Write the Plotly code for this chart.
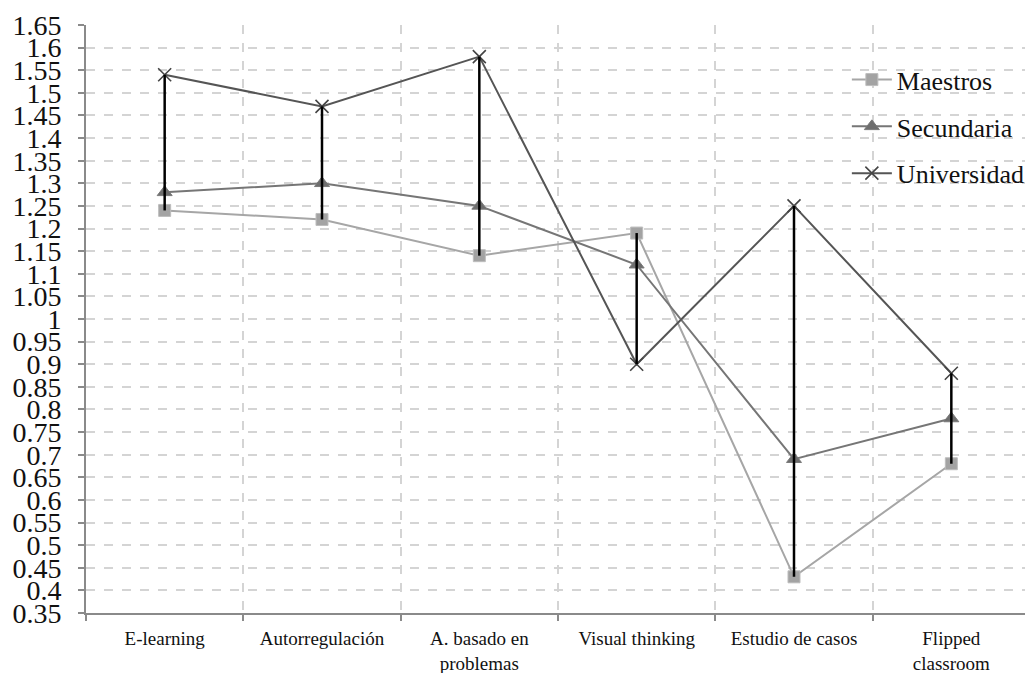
import plotly.graph_objects as go

categories = ["E-learning", "Autorregulación", "A. basado en<br>problemas",
              "Visual thinking", "Estudio de casos", "Flipped<br>classroom"]
maestros = [1.24, 1.22, 1.14, 1.19, 0.43, 0.68]
secundaria = [1.28, 1.30, 1.25, 1.12, 0.69, 0.78]
universidad = [1.54, 1.47, 1.58, 0.90, 1.25, 0.88]
y_ticks = [round(0.35 + 0.05 * i, 2) for i in range(27)]
y_ticktext = [("%g" % v) for v in y_ticks]

SERIF = "Liberation Serif, Times New Roman, Times, DejaVu Serif, serif"

fig = go.Figure()
fig.add_trace(go.Scatter(
    x=categories, y=maestros, name="Maestros", mode="lines+markers",
    line=dict(color="#a6a6a6", width=2),
    marker=dict(symbol="square", size=12, color="#a3a3a3", line=dict(color="#bdbdbd", width=1)),
    legendgroup="m"))
fig.add_trace(go.Scatter(
    x=categories, y=secundaria, name="Secundaria", mode="lines+markers",
    line=dict(color="#767676", width=2),
    marker=dict(symbol="triangle-up", size=13, color="#6e6e6e", line=dict(color="#7a7a7a", width=1)),
    legendgroup="s"))
fig.add_trace(go.Scatter(
    x=categories, y=universidad, name="Universidad", mode="lines+markers",
    line=dict(color="#555555", width=2),
    marker=dict(symbol="x-thin", size=13, color="#444444", line=dict(color="#444444", width=1.6)),
    legendgroup="u"))

# high-low lines
hx, hy = [], []
for c, a, b, u in zip(categories, maestros, secundaria, universidad):
    hx += [c, c, None]
    hy += [min(a, b, u), max(a, b, u), None]
fig.add_trace(go.Scatter(x=hx, y=hy, mode="lines", line=dict(color="#000000", width=2.5),
                         showlegend=False, hoverinfo="skip"))

fig.update_layout(
    width=1025, height=665,
    margin=dict(l=78, r=3, t=17, b=60, autoexpand=False),
    paper_bgcolor="white", plot_bgcolor="white",
    font=dict(family=SERIF, color="#111111"),
    showlegend=True,
    legend=dict(x=0.806, y=0.947, xanchor="left", yanchor="top",
                font=dict(size=26, family=SERIF, color="#111111"),
                bgcolor="rgba(0,0,0,0)", tracegroupgap=10, itemwidth=40),
    xaxis=dict(type="category", tickson="boundaries", range=[-0.5, 5.5], automargin=False,
               showline=True, linecolor="#8a8a8a", linewidth=2,
               ticks="outside", ticklen=6, tickcolor="#8a8a8a", tickwidth=2,
               ticklabelstandoff=7,
               showgrid=True, gridcolor="#d4d4d4", griddash="dash", gridwidth=1.5,
               tickfont=dict(size=19, family=SERIF, color="#111111")),
    yaxis=dict(range=[0.35, 1.65], tickvals=y_ticks, ticktext=y_ticktext, automargin=False,
               showline=True, linecolor="#8a8a8a", linewidth=2,
               ticks="outside", ticklen=6, tickcolor="#8a8a8a", tickwidth=2,
               ticklabelstandoff=11,
               showgrid=True, gridcolor="#d4d4d4", griddash="dash", gridwidth=1.5,
               zeroline=False,
               tickfont=dict(size=28, family=SERIF, color="#111111")),
)

fig.write_html("out.html")
